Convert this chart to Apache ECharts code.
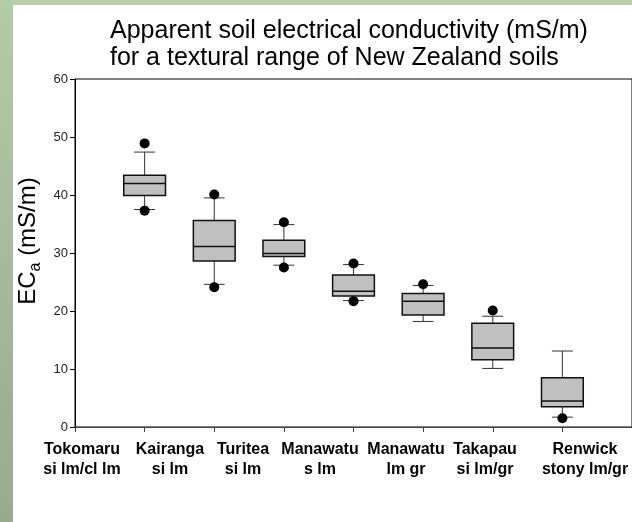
<!DOCTYPE html>
<html>
<head>
<meta charset="utf-8">
<script src="https://cdn.jsdelivr.net/npm/echarts@6/dist/echarts.min.js"></script>
<style>
html,body{margin:0;padding:0;background:#fff;}
#chart{width:632px;height:522px;}
</style>
</head>
<body>
<div id="chart"></div>
<script>
// ---- data ----
var soilNames = ['Tokomaru\nsi lm/cl lm', 'Kairanga\nsi lm', 'Turitea\nsi lm', 'Manawatu\ns lm', 'Manawatu\nlm gr', 'Takapau\nsi lm/gr', 'Renwick\nstony lm/gr'];
var whiskerLow = [37.5, 24.6, 27.9, 21.8, 18.2, 10.1, 1.7];
var quartile1  = [39.9, 28.6, 29.4, 22.6, 19.3, 11.6, 3.5];
var medians    = [42.0, 31.1, 29.9, 23.4, 21.7, 13.6, 4.5];
var quartile3  = [43.4, 35.6, 32.2, 26.2, 23.0, 17.9, 8.5];
var whiskerHigh= [47.4, 39.5, 34.9, 28.0, 24.4, 19.1, 13.1];
var outlierHigh= [48.9, 40.1, 35.3, 28.2, 24.6, 20.1, null];
var outlierLow = [37.3, 24.1, 27.5, 21.7, null, null, 1.5];
var yTicks = [0, 10, 20, 30, 40, 50, 60];

// ---- build ----
var FONT = "'Liberation Sans', Arial, sans-serif";
var boxData = soilNames.map(function (n, i) {
  return [i + 1, whiskerLow[i], quartile1[i], medians[i], quartile3[i], whiskerHigh[i]];
});
var outlierData = [];
soilNames.forEach(function (n, i) {
  if (outlierHigh[i] != null) outlierData.push([i + 1, outlierHigh[i]]);
  if (outlierLow[i] != null) outlierData.push([i + 1, outlierLow[i]]);
});

function renderBox(params, api) {
  var x = api.value(0);
  var lo = api.coord([x, api.value(1)]);
  var q1 = api.coord([x, api.value(2)]);
  var md = api.coord([x, api.value(3)]);
  var q3 = api.coord([x, api.value(4)]);
  var hi = api.coord([x, api.value(5)]);
  var unit = api.size([1, 0])[0];
  var hw = unit * 0.3;
  var cw = unit * 0.15;
  var cx = q1[0];
  var wStyle = { stroke: '#333', lineWidth: 1 };
  return {
    type: 'group',
    children: [
      { type: 'line', shape: { x1: cx, y1: q3[1], x2: cx, y2: hi[1] }, style: wStyle },
      { type: 'line', shape: { x1: cx, y1: q1[1], x2: cx, y2: lo[1] }, style: wStyle },
      { type: 'line', shape: { x1: cx - cw, y1: hi[1], x2: cx + cw, y2: hi[1] }, style: wStyle },
      { type: 'line', shape: { x1: cx - cw, y1: lo[1], x2: cx + cw, y2: lo[1] }, style: wStyle },
      { type: 'rect', shape: { x: cx - hw, y: q3[1], width: hw * 2, height: q1[1] - q3[1] },
        style: { fill: '#c0c0c0', stroke: '#111', lineWidth: 1.5 } },
      { type: 'line', shape: { x1: cx - hw, y1: md[1], x2: cx + hw, y2: md[1] },
        style: { stroke: '#111', lineWidth: 1.5 } }
    ]
  };
}

var labelX = [82, 170, 243, 320, 406, 485, 585];
var graphics = [
  { type: 'rect', left: 0, top: 0, shape: { width: 632, height: 5 }, style: { fill: '#b6cda9' }, silent: true },
  { type: 'rect', left: 0, top: 0, shape: { width: 13, height: 522 },
    style: { fill: new echarts.graphic.LinearGradient(0, 0, 0, 1, [{ offset: 0, color: '#b3cba7' }, { offset: 1, color: '#98ab8c' }]) }, silent: true },
  { type: 'text', x: 26, y: 241, rotation: Math.PI / 2,
    style: {
      text: '{m|EC}{s|a}{m| (mS/m)}', textAlign: 'center', textVerticalAlign: 'middle',
      rich: {
        m: { fontFamily: FONT, fontSize: 24, fill: '#000', lineHeight: 28, verticalAlign: 'bottom' },
        s: { fontFamily: FONT, fontSize: 16, fill: '#000', lineHeight: 16, verticalAlign: 'bottom', padding: [0, 0, -4, 0] }
      }
    }
  }
];
soilNames.forEach(function (n, i) {
  graphics.push({
    type: 'text', x: labelX[i], y: 440,
    style: { text: n, fill: '#000', font: 'bold 16px ' + FONT, textAlign: 'center', textVerticalAlign: 'top', lineHeight: 20 }
  });
});

var chart = echarts.init(document.getElementById('chart'), null, { renderer: 'canvas' });
chart.setOption({
  backgroundColor: '#fff',
  animation: false,
  title: {
    text: 'Apparent soil electrical conductivity (mS/m)\nfor a textural range of New Zealand soils',
    left: 110, top: 18, padding: 0,
    textStyle: { fontFamily: FONT, fontSize: 25, fontWeight: 'normal', color: '#000', lineHeight: 27 }
  },
  grid: { left: 75, top: 79, width: 560, bottom: 95, show: true, borderColor: '#000', borderWidth: 1, backgroundColor: 'transparent' },
  xAxis: {
    type: 'value', min: 0, max: 8, interval: 1,
    axisLine: { lineStyle: { color: '#444', width: 1 } },
    axisTick: { show: true, length: 5, lineStyle: { color: '#444' } },
    axisLabel: { show: false },
    splitLine: { show: false }
  },
  yAxis: {
    type: 'value', min: yTicks[0], max: yTicks[yTicks.length - 1], interval: yTicks[1] - yTicks[0],
    axisLine: { show: true, lineStyle: { color: '#000', width: 1 } },
    axisTick: { show: true, length: 5, lineStyle: { color: '#000' } },
    axisLabel: { fontFamily: FONT, fontSize: 13, color: '#222', margin: 7 },
    splitLine: { show: false }
  },
  series: [
    { type: 'custom', renderItem: renderBox, data: boxData, encode: { x: 0, y: [1, 2, 3, 4, 5] }, z: 3 },
    { type: 'scatter', data: outlierData, symbol: 'circle', symbolSize: 10, itemStyle: { color: '#000', opacity: 1 }, z: 4 }
  ],
  graphic: graphics
});
</script>
</body>
</html>
